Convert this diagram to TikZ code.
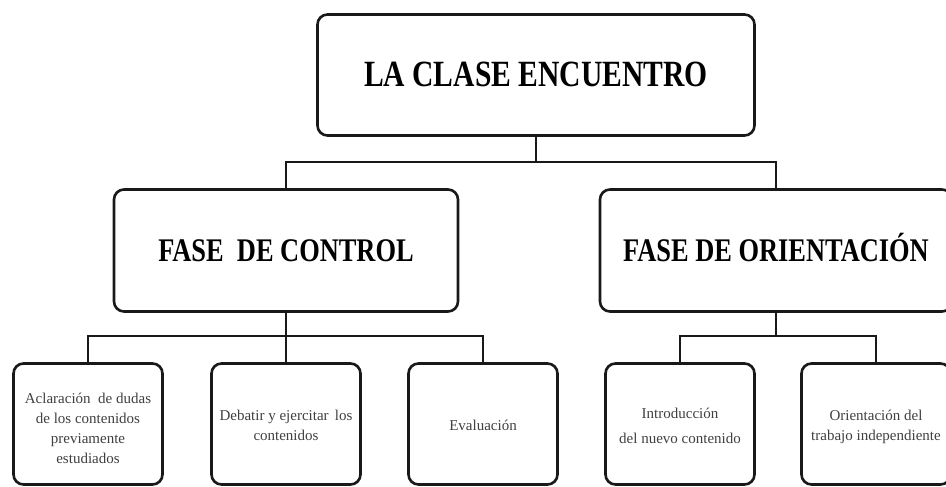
\documentclass[tikz,border=0pt]{standalone}
\usepackage{fontspec}
\setmainfont{Liberation Serif}
\newfontfamily\headfont[FakeStretch=0.8]{Liberation Serif}
\begin{document}
\begin{tikzpicture}[x=1pt,y=-1pt,
  box/.style={draw=black!90, line width=2.6pt, rounded corners=10pt, fill=white, inner sep=0pt},
  conn/.style={draw=black!90, line width=2.9pt},
  title/.style={box, minimum width=437pt, minimum height=121pt, text height=24pt, text depth=0pt, font=\headfont\bfseries\fontsize{37}{40}\selectfont},
  phase/.style={box, minimum height=122pt, text height=22pt, text depth=0pt, font=\headfont\bfseries\fontsize{33}{36}\selectfont},
  leaf/.style={box, minimum width=149pt, minimum height=121pt},
  leaftxt/.style={inner sep=0pt, align=center, text=black!75, font=\fontsize{15}{20}\selectfont}
]
\useasboundingbox (0,0) rectangle (946,487);
\fill[white] (0,0) rectangle (946,487);
\begin{scope}
\clip (0,0) rectangle (946,487);
\node[title] (top) at (536,75) {LA CLASE ENCUENTRO};
\node[phase, minimum width=344pt] (ctrl) at (286,250.5) {FASE\ \ DE CONTROL};
\node[phase, minimum width=352pt] (ori) at (776,250.5) {FASE DE ORIENTACIÓN};

\node[leaf] (b1) at (88,424) {};
\node[leaf] (b2) at (286,424) {};
\node[leaf] (b3) at (483,424) {};
\node[leaf] (b4) at (680,424) {};
\node[leaf] (b5) at (876,424) {};

\node[leaftxt] (t1) at ([yshift=-4pt]b1.center) {Aclaración\ \ de dudas\\de los contenidos\\previamente\\estudiados};
\node[leaftxt] (t2) at ([yshift=-1pt]b2.center) {Debatir y ejercitar\ \,los\\contenidos};
\node[leaftxt] (t3) at ([yshift=-1pt]b3.center) {Evaluación};
\node[leaftxt] (t4) at ([yshift=-2pt]b4.center) {Introducción\\[5pt]del nuevo contenido};
\node[leaftxt] (t5) at ([yshift=-3pt]b5.center) {Orientación del\\trabajo independiente};

\coordinate (j1) at (536,162);
\coordinate (j2) at (286,336);
\coordinate (j3) at (776,336);

\draw[conn] (top.south) -- (j1);
\draw[conn] (j1) -| (ctrl.north);
\draw[conn] (j1) -| (ori.north);

\draw[conn] (ctrl.south) -- (j2);
\draw[conn] (j2) -| (b1.north);
\draw[conn] (j2) -- (b2.north);
\draw[conn] (j2) -| (b3.north);

\draw[conn] (ori.south) -- (j3);
\draw[conn] (j3) -| (b4.north);
\draw[conn] (j3) -| (b5.north);
\end{scope}
\end{tikzpicture}
\end{document}
